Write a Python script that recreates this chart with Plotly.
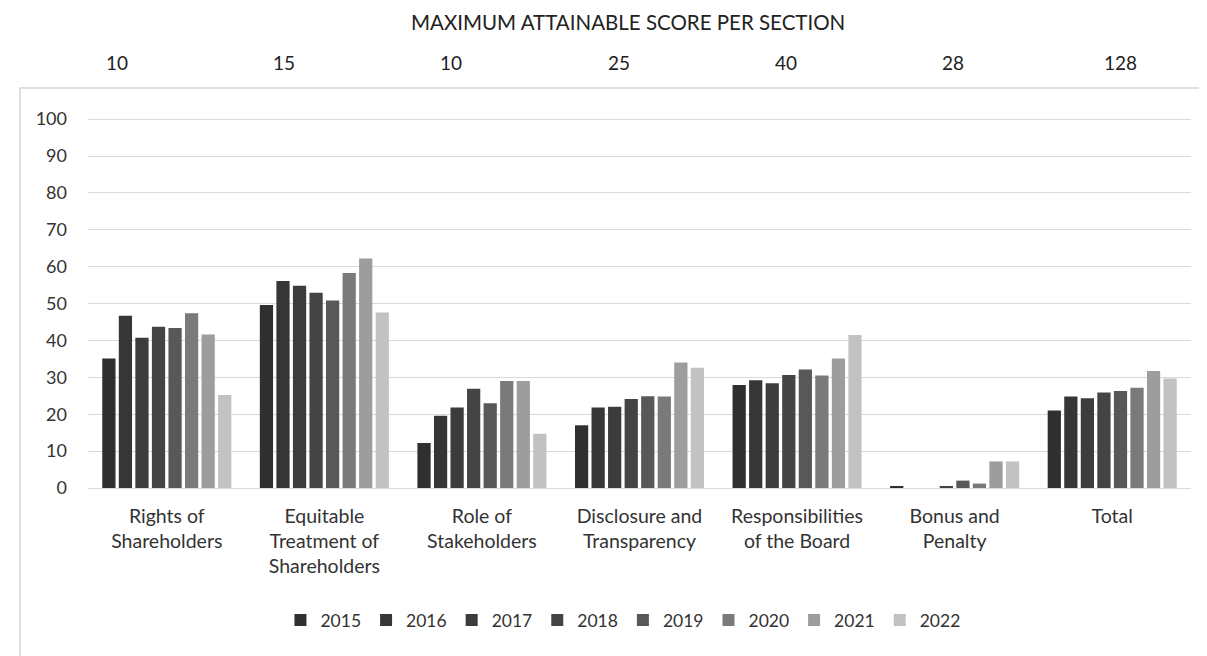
import plotly.graph_objects as go

categories = ["Rights of<br>Shareholders", "Equitable<br>Treatment of<br>Shareholders",
              "Role of<br>Stakeholders", "Disclosure and<br>Transparency",
              "Responsibilities<br>of the Board", "Bonus and<br>Penalty", "Total"]
max_scores = ["10", "15", "10", "25", "40", "28", "128"]
years = ["2015", "2016", "2017", "2018", "2019", "2020", "2021", "2022"]

v2015 = [35.1, 49.6, 12.2, 17.0, 27.9, 0.3, 21.0]
v2016 = [46.7, 56.1, 19.6, 21.8, 29.2, 0.0, 24.8]
v2017 = [40.7, 54.8, 21.8, 22.0, 28.4, 0.0, 24.3]
v2018 = [43.7, 52.9, 26.9, 24.1, 30.6, 0.3, 25.9]
v2019 = [43.4, 50.8, 23.0, 24.9, 32.1, 2.0, 26.3]
v2020 = [47.4, 58.3, 29.0, 24.8, 30.5, 1.2, 27.2]
v2021 = [41.6, 62.2, 29.0, 34.0, 35.1, 7.2, 31.7]
v2022 = [25.2, 47.6, 14.7, 32.6, 41.5, 7.2, 29.7]
series = [v2015, v2016, v2017, v2018, v2019, v2020, v2021, v2022]

colors = ["#2f2f2f", "#363636", "#3c3c3c", "#444444", "#585858", "#7a7a7a", "#9d9d9d", "#c2c2c2"]

FONT = "Lato, 'Open Sans', sans-serif"

fig = go.Figure()
for yr, vals, c in zip(years, series, colors):
    fig.add_trace(go.Bar(name=yr, x=categories, y=vals, marker=dict(color=c, line=dict(width=0))))

n = len(max_scores)
for i, s in enumerate(max_scores):
    fig.add_annotation(x=0.026 + i * (0.91 / (n - 1)), xref="paper", y=1.151, yref="paper",
                       yanchor="middle", xanchor="center",
                       text=s, showarrow=False, font=dict(size=19, color="#222", family=FONT))

fig.add_annotation(x=0.49, xref="paper", y=1.259, yref="paper", yanchor="middle",
                   text="MAXIMUM ATTAINABLE SCORE PER SECTION", showarrow=False,
                   font=dict(size=20.5, color="#222", family=FONT))

fig.add_shape(type="rect", xref="paper", yref="paper", x0=-0.0617, x1=1.05, y0=-0.52, y1=1.081,
              line=dict(color="#d6d6d6", width=1.5), fillcolor="rgba(0,0,0,0)", layer="below")

fig.update_layout(
    width=1207, height=656,
    paper_bgcolor="white", plot_bgcolor="white",
    margin=dict(l=80, r=24, t=110, b=176),
    barmode="group", bargap=0.16, bargroupgap=0.2,
    font=dict(family=FONT, color="#333", size=18),
    showlegend=True,
    legend=dict(orientation="h", x=0.485, xanchor="center", y=-0.357, yanchor="middle",
                font=dict(size=17.5, color="#333", family=FONT), itemwidth=30,
                traceorder="normal", tracegroupgap=0),
    xaxis=dict(showline=False, ticks="", tickfont=dict(size=19.5, color="#333"), showgrid=False,
               ticklabelstandoff=14),
    yaxis=dict(range=[0, 100.3], tickvals=list(range(0, 101, 10)), showgrid=True,
               gridcolor="#d9d9d9", gridwidth=1.2, zeroline=True, zerolinecolor="#d9d9d9",
               zerolinewidth=1.2, showline=False, ticks="", ticklabelstandoff=20,
               tickfont=dict(size=18, color="#333")),
)

fig.write_html("out.html")
